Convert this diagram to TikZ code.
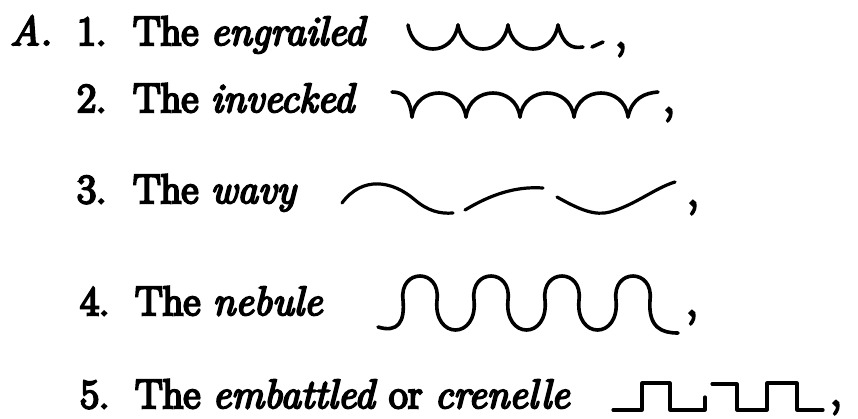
\documentclass[tikz,border=0pt]{standalone}
\usepackage{fontspec}
\setmainfont{Latin Modern Roman}[FakeBold=6,ItalicFeatures={FakeBold=5}]
\usepackage{tikz}
\usetikzlibrary{arrows.meta,calc,positioning}

\tikzset{
  entry/.style={anchor=base west,inner sep=0pt,font=\fontsize{41}{49}\selectfont},
  tick/.style={anchor=base west,inner sep=0pt,font=\fontsize{46}{52}\selectfont},
  heraldic/.style={line width=3.6pt,line cap=round,line join=round}
}

\begin{document}
\begin{tikzpicture}[x=1pt,y=-1pt]
\useasboundingbox (0,0) rectangle (858,418);

% Labels
\node[entry] (mark) at (10,45) {\textit{A.}};
\node[entry] (num1) at (77,45) {1.};
\node[entry] (txt1) at (133,45) {The \textit{engrailed}};
\node[entry] (num2) at (77,112) {2.};
\node[entry] (txt2) at (133,112) {The \textit{invecked}};
\node[entry] (num3) at (77,203) {3.};
\node[entry] (txt3) at (133,203) {The \textit{wavy}};
\node[entry] (num4) at (80,315) {4.};
\node[entry] (txt4) at (135,315) {The \textit{nebule}};
\node[entry] (num5) at (80,408) {5.};
\node[entry] (txt5) at (135,408) {The \textit{embattled} or \textit{crenelle}};

% Engrailed
\foreach \x in {408,458,508}
  \draw[heraldic] (\x,25) .. controls (\x+5,57) and (\x+45,57) .. (\x+50,25);
\draw[heraldic] (558,25) .. controls (563,45) and (572,49) .. (583,47);
\draw[heraldic] (592,47) -- (603,42);
\node[tick] (c1) at (615,47) {,};

% Invecked
\draw[heraldic] (392,92) .. controls (405,92) and (410,100) .. (412,117);
\foreach \x in {412,466,520,574}
  \draw[heraldic] (\x,117) .. controls (\x+4,85) and (\x+50,85) .. (\x+54,117);
\draw[heraldic] (628,117) .. controls (632,98) and (645,93) .. (658,92);
\node[tick] (c2) at (663,112) {,};

% Wavy
\draw[heraldic,line width=3.2pt] (342,203) .. controls (362,176) and (392,180) .. (415,200)
  .. controls (428,211) and (440,214) .. (453,213);
\draw[heraldic,line width=3.2pt] (465,210) .. controls (490,195) and (515,186) .. (543,188);
\draw[heraldic,line width=3.2pt] (557,197) .. controls (580,210) and (595,216) .. (610,212)
  .. controls (635,205) and (655,188) .. (675,182);
\node[tick] (c3) at (687,205) {,};

% Nebule
\draw[heraldic] (378,327) .. controls (398,333) and (405,322) .. (403,300)
  \foreach \p in {420,491,562} {
    .. controls (\p-21,268) and (\p+21,268) .. (\p+17,300)
    .. controls (\p+13,340) and (\p+58,340) .. (\p+54,300)}
  .. controls (612,268) and (654,268) .. (650,300)
  .. controls (648,328) and (662,333) .. (678,333);
\node[tick] (c4) at (686,315) {,};

% Embattled
\draw[heraldic,line width=3.2pt] (613,410) -| (642,383) -| (670,410) -| (705,397);
\draw[heraldic,line width=3.2pt] (712,384) -| (737,410) -| (767,383) -| (797,410) -- (823,410);
\node[tick] (c5) at (830,405) {,};
\end{tikzpicture}
\end{document}
